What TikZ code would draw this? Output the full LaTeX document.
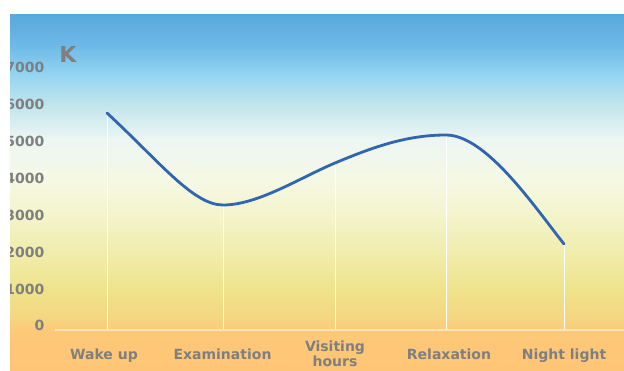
\documentclass[tikz,border=0pt]{standalone}
\usepackage{fontspec}
\setmainfont{DejaVu Sans}
\definecolor{c0}{HTML}{FFC577}
\definecolor{c1}{HTML}{FDC878}
\definecolor{c2}{HTML}{F6D47F}
\definecolor{c3}{HTML}{EFE38B}
\definecolor{c4}{HTML}{F0EDAE}
\definecolor{c5}{HTML}{F4F4CC}
\definecolor{c6}{HTML}{F5F8E4}
\definecolor{c7}{HTML}{EDF6F3}
\definecolor{c8}{HTML}{C2E5EC}
\definecolor{c9}{HTML}{94D5F2}
\definecolor{c10}{HTML}{6DB9E6}
\definecolor{c11}{HTML}{58A8DC}
\definecolor{labelgray}{HTML}{7F7F7F}
\definecolor{curveblue}{HTML}{2F65B1}
\definecolor{axiscol}{HTML}{FFE4B5}
% TikZ maps the path box onto the middle half (25bp..75bp) of the shading
\pgfdeclareverticalshading{bgshade}{100bp}{color(0bp)=(c0); color(25bp)=(c0); color(30.35bp)=(c1); color(32bp)=(c2); color(36.25bp)=(c3); color(41.85bp)=(c4); color(46.75bp)=(c5); color(51.7bp)=(c6); color(57.3bp)=(c7); color(62.2bp)=(c8); color(66.45bp)=(c9); color(70.65bp)=(c10); color(75bp)=(c11); color(100bp)=(c11)}
\tikzset{
  lbl/.style={font=\bfseries\fontsize{14}{13}\selectfont, text=labelgray, inner sep=0pt},
  curve/.style={draw=curveblue, line width=2.8pt, line cap=round, line join=round},
  drop/.style={draw=white, line width=0.9pt},
  axisline/.style={draw=axiscol, line width=1.6pt}
}
\begin{document}
\begin{tikzpicture}[x=1pt,y=-1pt]
\useasboundingbox (0,0) rectangle (624,370);
\shade[shading=bgshade] (10,14) rectangle (624,370);
% data points
\coordinate (p1) at (107,113);
\coordinate (p2) at (223,205);
\coordinate (p3) at (335,163);
\coordinate (p4) at (446,135);
\coordinate (p5) at (564,244);
\coordinate (axL) at (55,330);
\coordinate (axR) at (624,330);
% drop lines
\foreach \p in {p1,p2,p3,p4,p5}{\draw[drop] (\p) -- (\p |- axL);}
% axis
\draw[axisline] (axL) -- (axR);
% y labels
\begin{scope}
\clip (10,14) rectangle (624,370);
\node[lbl, anchor=east] (y0) at (44.5,325) {0};
\node[lbl, anchor=east] (y1) at (44.5,289) {1000};
\node[lbl, anchor=east] (y2) at (44.5,252) {2000};
\node[lbl, anchor=east] (y3) at (44.5,215) {3000};
\node[lbl, anchor=east] (y4) at (44.5,178) {4000};
\node[lbl, anchor=east] (y5) at (44.5,141) {5000};
\node[lbl, anchor=east] (y6) at (44.5,104) {6000};
\node[lbl, anchor=east] (y7) at (44.5,67) {7000};
\end{scope}
\node[lbl, font=\bfseries\fontsize{22}{22}\selectfont] (unit) at (68,54) {K};
% x labels
\node[lbl, anchor=base] (x1) at (104,359) {Wake up};
\node[lbl, anchor=base] (x2) at (222.5,359) {Examination};
\node[lbl, anchor=base, align=center] (x3) at (335,366) {Visiting\\hours};
\node[lbl, anchor=base] (x4) at (449,359) {Relaxation};
\node[lbl, anchor=base] (x5) at (564,359) {Night light};
% curve
\draw[curve] (p1) .. controls +(52,48) and +(-30,0) .. (p2)
                  .. controls +(35,0) and +(-35,14.7) .. (p3)
                  .. controls +(37,-15.5) and +(-40,0) .. (p4)
                  .. controls +(40,0) and +(-30,-38) .. (p5);
\end{tikzpicture}
\end{document}
